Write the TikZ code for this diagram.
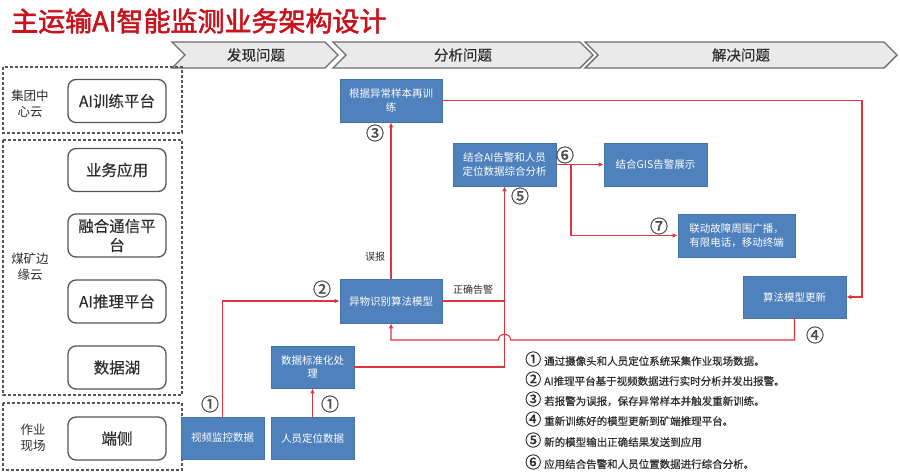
\documentclass[tikz,border=0pt]{standalone}
\usepackage{fontspec}
\setmainfont{Noto Sans CJK SC}[AutoFakeBold=2]
\usetikzlibrary{arrows.meta,calc}
\definecolor{titleC}{RGB}{200,18,28}
\definecolor{redL}{RGB}{222,52,62}
\definecolor{blueF}{RGB}{79,129,189}
\definecolor{blueB}{RGB}{70,115,172}
\definecolor{grayB}{RGB}{85,85,85}
\definecolor{txtC}{RGB}{45,45,45}
\definecolor{chevF}{RGB}{234,234,234}
\definecolor{chevB}{RGB}{110,110,110}
\newcommand{\cnum}[1]{{\fontsize{16}{16}\selectfont\addfontfeature{FakeBold=1.2}#1}}
\begin{document}
\begin{tikzpicture}[x=1pt,y=-1pt,
  chev/.style={draw=chevB, fill=chevF, line width=1.4pt, line join=miter},
  chevtext/.style={font=\fontsize{14.5}{17}\selectfont\addfontfeature{FakeBold=0.4}, text=txtC, inner sep=0pt},
  grpbox/.style={draw=grayB, dash pattern=on 3pt off 2pt, line width=1.2pt},
  grplabel/.style={font=\fontsize{12.5}{16}\selectfont, text=txtC, align=center, inner sep=0pt},
  rbox/.style={draw=grayB, line width=1.3pt, rounded corners=8pt, minimum width=98pt, minimum height=43pt, font=\fontsize{15.5}{19}\selectfont\addfontfeature{FakeBold=0.4}, text=txtC, align=center, inner sep=1pt},
  blk/.style={draw=blueB, fill=blueF, line width=0.6pt, text=white, font=\fontsize{10.5}{13.5}\selectfont, align=center, inner sep=1pt},
  arr/.style={draw=redL, line width=1.1pt, -{Latex[length=5pt,width=4.5pt]}},
  ln/.style={draw=redL, line width=1.1pt},
  num/.style={font=\fontsize{18}{18}\selectfont\addfontfeature{FakeBold=1.3}, text=txtC!85, inner sep=0pt},
  lab/.style={font=\fontsize{10}{12}\selectfont, text=txtC, inner sep=0pt},
  legend/.style={font=\fontsize{10.5}{13}\selectfont\addfontfeature{FakeBold=0.5}, text=txtC, anchor=west, inner sep=0pt}
]
\useasboundingbox (0,0) rectangle (900,475);
\fill[white] (0,0) rectangle (900,475);

% title
\node[anchor=west, inner sep=0pt, text=titleC, font=\fontsize{27}{30}\selectfont\bfseries\addfontfeature{FakeBold=1.5}] (title) at (11,21) {主运输AI智能监测业务架构设计};

% chevrons
\draw[chev] (172,42) -- (325,42) -- (338,55) -- (325,68) -- (172,68) -- (185,55) -- cycle;
\draw[chev] (333,42) -- (580,42) -- (593,55) -- (580,68) -- (333,68) -- (346,55) -- cycle;
\draw[chev] (585,42) -- (884,42) -- (897,55) -- (884,68) -- (585,68) -- (598,55) -- cycle;
\node[chevtext] (ph1) at (256,55) {发现问题};
\node[chevtext] (ph2) at (463,55) {分析问题};
\node[chevtext] (ph3) at (741,55) {解决问题};

% left groups
\draw[grpbox] (3,67) rectangle (182,133);
\draw[grpbox] (3,140) rectangle (182,395);
\draw[grpbox] (3,403) rectangle (182,470);
\node[grplabel] (g1) at (30,104) {集团中\\心云};
\node[grplabel] (g2) at (30,267) {煤矿边\\缘云};
\node[grplabel] (g3) at (33,438) {作业\\现场};

\node[rbox] (r1) at (117,101) {AI训练平台};
\node[rbox] (r2) at (117,170) {业务应用};
\node[rbox] (r3) at (117,235.5) {融合通信平\\台};
\node[rbox] (r4) at (117,301.5) {AI推理平台};
\node[rbox] (r5) at (117,367.5) {数据湖};
\node[rbox] (r6) at (117,438.5) {端侧};

% blue blocks
\node[blk, minimum width=102pt, minimum height=43pt] (retrain) at (391,100.5) {根据异常样本再训\\练};
\node[blk, minimum width=103pt, minimum height=43pt] (fuse) at (504.5,164.5) {结合AI告警和人员\\定位数据综合分析};
\node[blk, minimum width=103pt, minimum height=43pt] (gis) at (655.5,164.5) {结合GIS告警展示};
\node[blk, minimum width=117pt, minimum height=43pt, align=left] (link) at (736.5,235.5) {联动故障周围广播，\\有限电话，移动终端};
\node[blk, minimum width=103pt, minimum height=42pt] (update) at (794.5,297) {算法模型更新};
\node[blk, minimum width=102pt, minimum height=44pt] (detect) at (391,301) {异物识别算法模型};
\node[blk, minimum width=83pt, minimum height=42pt] (std) at (312.5,367) {数据标准化处\\理};
\node[blk, minimum width=83pt, minimum height=42pt] (video) at (222.5,438) {视频监控数据};
\node[blk, minimum width=83pt, minimum height=42pt] (person) at (312.5,438) {人员定位数据};

% connectors
\coordinate (hop) at (504.5,340);
\coordinate (rc) at (862,100.5);
\coordinate (br) at (571,164.5);

\draw[arr] (video.north) |- (detect.west);
\draw[arr] (person.north) -- (std.south);
\draw[arr] (std.east) -| (fuse.south);
\draw[ln] (detect.east) -- (detect.east -| fuse.south);
\draw[arr] (update.south) |- ([xshift=6pt]hop)
  .. controls ([xshift=6pt,yshift=8pt]hop) and ([xshift=-6pt,yshift=8pt]hop) .. ([xshift=-6pt]hop)
  -| (detect.south);
\draw[arr] (detect.north) -- (retrain.south);
\draw[arr] (retrain.east) -- (rc) |- (update.east);
\draw[arr] (fuse.east) -- (gis.west);
\draw[arr] (br) |- (link.west);

% step numbers
\node[num] (n1a) at (210,404) {①};
\node[num] (n1b) at (330,404) {①};
\node[num] (n2) at (322,289) {②};
\node[num] (n3) at (375,133) {③};
\node[num] (n4) at (815,335) {④};
\node[num] (n5) at (520,196) {⑤};
\node[num] (n6) at (565,155) {⑥};
\node[num] (n7) at (659,226) {⑦};

\node[lab] (wb) at (375,257) {误报};
\node[lab] (zq) at (473,290) {正确告警};

% legend
\node[legend] (l1) at (525,359) {\cnum{①}\hspace{3pt}通过摄像头和人员定位系统采集作业现场数据。};
\node[legend] (l2) at (525,379) {\cnum{②}\hspace{3pt}AI推理平台基于视频数据进行实时分析并发出报警。};
\node[legend] (l3) at (525,399) {\cnum{③}\hspace{3pt}若报警为误报，保存异常样本并触发重新训练。};
\node[legend] (l4) at (525,419) {\cnum{④}\hspace{3pt}重新训练好的模型更新到矿端推理平台。};
\node[legend] (l5) at (525,440) {\cnum{⑤}\hspace{3pt}新的模型输出正确结果发送到应用};
\node[legend] (l6) at (525,462) {\cnum{⑥}\hspace{3pt}应用结合告警和人员位置数据进行综合分析。};
\end{tikzpicture}
\end{document}
